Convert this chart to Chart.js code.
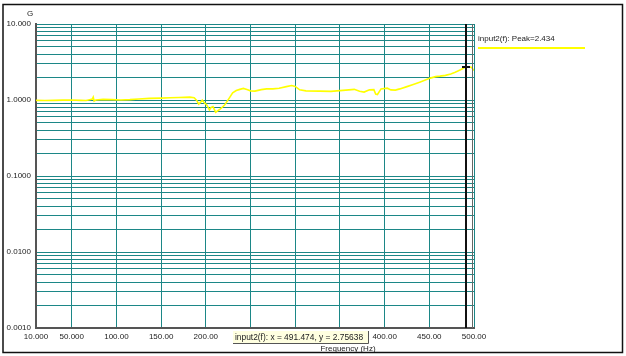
<!DOCTYPE html>
<html>
<head>
<meta charset="utf-8">
<script src="https://cdn.jsdelivr.net/npm/chart.js@4.4.1/dist/chart.umd.min.js"></script>
<style>
  html, body { margin: 0; padding: 0; background: #fff; }
  #wrap { width: 626px; height: 356px; }
</style>
</head>
<body>
<div id="wrap"><canvas id="gainChart" width="626" height="356"></canvas></div>
<script>
// Frequency response readings (Hz -> gain G)
const freqs = [10, 20, 30, 40, 50, 60, 66, 70, 73, 74, 75, 77, 85, 95, 105, 115, 125, 137, 150, 160,
  170, 182, 187, 190, 192, 194, 196, 198, 201, 204, 206, 208, 211, 216, 221, 226, 230, 234, 238, 242,
  246, 250, 255, 262, 268, 275, 282, 290, 296, 300, 305, 312, 327, 340, 350, 360, 366, 372, 377, 383,
  388, 390, 392, 396, 403, 407, 412, 417, 425, 432, 440, 451, 457, 462, 468, 474, 479, 485, 490, 494,
  497, 500];
const gains = [0.99, 0.985, 0.99, 0.995, 1.0, 0.99, 0.985, 1.01, 1.03, 1.09, 0.97, 1.0, 1.02, 1.01, 1.0, 1.01, 1.03, 1.05, 1.06, 1.07,
  1.08, 1.09, 1.07, 0.98, 0.88, 0.93, 1.0, 0.93, 0.86, 0.74, 0.80, 0.82, 0.69, 0.76, 0.86, 1.05, 1.24, 1.33, 1.38, 1.42,
  1.37, 1.32, 1.31, 1.37, 1.40, 1.40, 1.43, 1.50, 1.55, 1.51, 1.36, 1.32, 1.31, 1.30, 1.33, 1.36, 1.38, 1.30, 1.27, 1.36,
  1.37, 1.20, 1.18, 1.40, 1.43, 1.36, 1.35, 1.40, 1.50, 1.60, 1.73, 1.94, 2.03, 2.06, 2.11, 2.20, 2.32, 2.50, 2.69, 2.72,
  2.70, 2.45];

const xTicks = [10, 50, 100, 150, 200, 250, 300, 350, 400, 450, 500];
const xTickLabels = ['10.000', '50.000', '100.00', '150.00', '200.00', '250.00', '300.00', '350.00', '400.00', '450.00', '500.00'];
const yDecades = [0.001, 0.01, 0.1, 1, 10];
const yDecadeLabels = ['0.0010', '0.0100', '0.1000', '1.0000', '10.000'];

const seriesLabel = 'input2(f)';
const peakValue = 2.434;
const cursorX = 491.474;
const cursorY = 2.75638;

// 1..9 per decade, plus the top decade
const yGridValues = [];
for (let d = 0; d < yDecades.length - 1; d++) {
  for (let k = 1; k <= 9; k++) yGridValues.push(+(k * yDecades[d]).toPrecision(3));
}
yGridValues.push(yDecades[yDecades.length - 1]);

const FONT = "'Liberation Sans', Arial, sans-serif";
const GRID = '#1c8787';

const overlayPlugin = {
  id: 'overlay',
  beforeDraw(chart) {
    const ctx = chart.ctx;
    ctx.save();
    ctx.fillStyle = '#fff';
    ctx.fillRect(0, 0, chart.width, chart.height);
    ctx.restore();
  },
  afterDraw(chart) {
    const ctx = chart.ctx;
    const area = chart.chartArea;
    const xs = chart.scales.x;
    const ys = chart.scales.y;
    ctx.save();

    // right frame of the plot
    ctx.strokeStyle = '#666';
    ctx.lineWidth = 1;
    ctx.beginPath();
    ctx.moveTo(area.right - 1.5, area.top);
    ctx.lineTo(area.right - 1.5, area.bottom);
    ctx.stroke();

    // cursor
    const cx = Math.round(xs.getPixelForValue(cursorX));
    const cy = Math.round(ys.getPixelForValue(cursorY));
    ctx.strokeStyle = '#111';
    ctx.lineWidth = 2;
    ctx.beginPath();
    ctx.moveTo(cx, area.top);
    ctx.lineTo(cx, area.bottom);
    ctx.stroke();
    ctx.beginPath();
    ctx.moveTo(cx - 4, cy);
    ctx.lineTo(cx + 4, cy);
    ctx.stroke();

    // legend
    ctx.font = '8px ' + FONT;
    ctx.fillStyle = '#222';
    ctx.textBaseline = 'middle';
    ctx.textAlign = 'left';
    ctx.fillText(seriesLabel + ': Peak=' + peakValue.toFixed(3), 478, 39);
    ctx.strokeStyle = '#ffff00';
    ctx.lineWidth = 2;
    ctx.beginPath();
    ctx.moveTo(478, 48);
    ctx.lineTo(585, 48);
    ctx.stroke();

    // cursor readout box
    ctx.fillStyle = '#ffffe0';
    ctx.fillRect(233, 331, 136, 13);
    ctx.strokeStyle = '#555';
    ctx.lineWidth = 1;
    ctx.beginPath();
    ctx.moveTo(233, 343.5);
    ctx.lineTo(368.5, 343.5);
    ctx.lineTo(368.5, 331);
    ctx.stroke();
    ctx.fillStyle = '#222';
    ctx.font = '8.4px ' + FONT;
    ctx.fillText(seriesLabel + ': x = ' + cursorX.toFixed(3) + ', y = ' + cursorY.toFixed(5), 235, 337.5);

    // axis titles
    ctx.font = '8px ' + FONT;
    ctx.textAlign = 'center';
    ctx.fillText('G', 30, 14);
    ctx.fillText('Frequency (Hz)', 348, 349);

    // outer frame
    ctx.strokeStyle = '#111';
    ctx.lineWidth = 1.5;
    ctx.strokeRect(3, 4.5, 619.5, 348);
    ctx.restore();
  }
};

new Chart(document.getElementById('gainChart'), {
  type: 'line',
  data: {
    datasets: [{
      label: seriesLabel,
      data: freqs.map((f, i) => ({ x: f, y: gains[i] })),
      borderColor: '#ffff00',
      borderWidth: 1.6,
      pointRadius: 0,
      tension: 0,
      fill: false
    }]
  },
  options: {
    responsive: false,
    animation: false,
    devicePixelRatio: 1,
    layout: { padding: { left: 3, top: 24, right: 152, bottom: 0 } },
    plugins: { legend: { display: false }, tooltip: { enabled: false } },
    scales: {
      x: {
        type: 'linear',
        min: 10,
        max: 500,
        afterBuildTicks: (s) => { s.ticks = xTicks.map(v => ({ value: v })); },
        afterFit: (s) => { s.height = 28; },
        grid: { color: GRID, lineWidth: 1, drawTicks: false },
        border: { color: '#555', width: 2 },
        ticks: {
          autoSkip: false,
          maxRotation: 0,
          padding: 4,
          color: '#222',
          font: { family: FONT, size: 8 },
          callback: (v, i) => xTickLabels[i]
        }
      },
      y: {
        type: 'logarithmic',
        min: 0.001,
        max: 10,
        afterBuildTicks: (s) => { s.ticks = yGridValues.map(v => ({ value: v })); },
        afterFit: (s) => { s.width = 33; },
        grid: { color: GRID, lineWidth: 1, drawTicks: false },
        border: { color: '#555', width: 2 },
        ticks: {
          autoSkip: false,
          padding: 5,
          color: '#222',
          font: { family: FONT, size: 8 },
          callback: (v) => {
            const i = yDecades.findIndex(d => Math.abs(d - v) < d * 1e-6);
            return i >= 0 ? yDecadeLabels[i] : '';
          }
        }
      }
    }
  },
  plugins: [overlayPlugin]
});
</script>
</body>
</html>
